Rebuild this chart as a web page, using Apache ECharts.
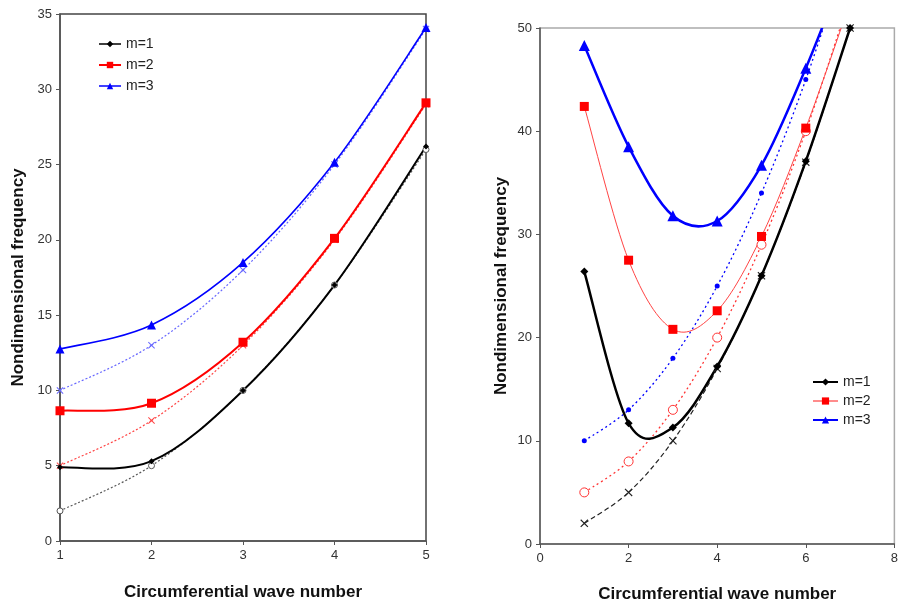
<!DOCTYPE html>
<html><head><meta charset="utf-8">
<script src="https://cdn.jsdelivr.net/npm/echarts@6/dist/echarts.min.js"></script>
<style>html,body{margin:0;padding:0;background:#fff}#c{width:901px;height:608px}</style>
</head><body><div id="c"></div>
<script>
// Left chart data
const leftX = [1, 2, 3, 4, 5];
const leftM1 = [4.9, 5.3, 10.0, 17.0, 26.2];
const leftM2 = [8.65, 9.15, 13.2, 20.1, 29.1];
const leftM3 = [12.75, 14.35, 18.5, 25.15, 34.1];
const leftM1d = [2, 5, 10, 17, 26];
const leftM2d = [5, 8, 13, 20, 29];
const leftM3d = [10, 13, 18, 25, 34];
// Right chart data
const rightX = [1, 2, 3, 4, 5, 6, 7];
const rightM1 = [26.4, 11.7, 11.3, 17.2, 26.0, 37.1, 50.0];
const rightM2 = [42.4, 27.5, 20.8, 22.6, 29.8, 40.3, 52.5];
const rightM3 = [48.3, 38.5, 31.8, 31.3, 36.7, 46.1, 57.0];
const rightM1d = [2, 5, 10, 17, 26, 37, 50];
const rightM2d = [5, 8, 13, 20, 29, 40, 53];
const rightM3d = [10, 13, 18, 25, 34, 45, 58];
const legendNames = ['m=1', 'm=2', 'm=3'];
const xTitle = 'Circumferential wave number';
const yTitle = 'Nondimensional frequency';

const XSYM = 'path://M0,1L1,0L5,4L9,0L10,1L6,5L10,9L9,10L5,6L1,10L0,9L4,5Z';
const pairs = (xs, ys) => xs.map((x, i) => [x, ys[i]]);
const FONT = '"Liberation Sans", Arial, sans-serif';

// Smooth curve (Catmull-Rom style Bezier) drawn through the data via the axes' scales
function curve(idx, xs, ys, color, width, dash, z) {
  return { type: 'custom', xAxisIndex: idx, yAxisIndex: idx, data: pairs(xs, ys), silent: true, clip: true, z: z,
    renderItem: function (params, api) {
      if (params.dataIndex !== 0) return null;
      const pts = xs.map((x, i) => api.coord([x, ys[i]]));
      const children = [];
      const n = pts.length;
      for (let i = 0; i < n - 1; i++) {
        const p0 = pts[Math.max(i - 1, 0)], p1 = pts[i], p2 = pts[i + 1], p3 = pts[Math.min(i + 2, n - 1)];
        children.push({ type: 'bezierCurve', silent: true,
          shape: { x1: p1[0], y1: p1[1], x2: p2[0], y2: p2[1],
            cpx1: p1[0] + (p2[0] - p0[0]) / 6, cpy1: p1[1] + (p2[1] - p0[1]) / 6,
            cpx2: p2[0] - (p3[0] - p1[0]) / 6, cpy2: p2[1] - (p3[1] - p1[1]) / 6 },
          style: { stroke: color, lineWidth: width, fill: 'none', lineDash: dash || null } });
      }
      const cs = params.coordSys;
      return { type: 'group', children: children,
        clipPath: { type: 'rect', shape: { x: cs.x, y: cs.y, width: cs.width, height: cs.height } } };
    }
  };
}
// Markers (line series with hidden line so the legend shows line + symbol)
function marks(name, idx, xs, ys, color, symbol, size, hollow) {
  const s = { type: 'line', xAxisIndex: idx, yAxisIndex: idx, data: pairs(xs, ys),
    symbol, symbolSize: size, showSymbol: true, clip: true, z: 4,
    lineStyle: { color, width: 1, opacity: 0 },
    itemStyle: hollow ? { color: '#fff', borderColor: color, borderWidth: 1 } : { color, borderWidth: 0 },
    emphasis: { disabled: true } };
  if (name) s.name = name;
  return s;
}
function axisCommon() {
  return {
    axisLine: { show: true, onZero: false, lineStyle: { color: '#555', width: 1.5 } },
    axisTick: { show: true, inside: false, length: 4, lineStyle: { color: '#555' } },
    splitLine: { show: false },
    axisLabel: { color: '#333', fontSize: 13, fontFamily: FONT }
  };
}
const nameStyle = { color: '#111', fontSize: 17, fontWeight: 'bold', fontFamily: FONT };
function legendItem(name, color, width) {
  return { name, lineStyle: { opacity: 1, color, width } };
}

const option = {
  animation: false,
  backgroundColor: '#fff',
  grid: [
    { left: 60, right: 475, top: 14, bottom: 67, show: true, borderColor: '#444', borderWidth: 1.5, backgroundColor: 'transparent' },
    { left: 540, right: 2, top: 28, bottom: 64, show: true, borderColor: '#aaa', borderWidth: 1.5, backgroundColor: 'transparent' }
  ],
  xAxis: [
    Object.assign(axisCommon(), { type: 'value', gridIndex: 0, min: 1, max: 5, interval: 1,
      name: xTitle, nameLocation: 'middle', nameGap: 43, nameTextStyle: nameStyle }),
    Object.assign(axisCommon(), { type: 'value', gridIndex: 1, min: 0, max: 8, interval: 2,
      name: xTitle, nameLocation: 'middle', nameGap: 42, nameTextStyle: nameStyle })
  ],
  yAxis: [
    Object.assign(axisCommon(), { type: 'value', gridIndex: 0, min: 0, max: 35, interval: 5,
      name: yTitle, nameLocation: 'middle', nameGap: 33, nameTextStyle: nameStyle }),
    Object.assign(axisCommon(), { type: 'value', gridIndex: 1, min: 0, max: 50, interval: 10,
      name: yTitle, nameLocation: 'middle', nameGap: 30, nameTextStyle: nameStyle })
  ],
  legend: [
    { data: [legendItem('m=1', '#000', 1.5), legendItem('m=2', '#ff0000', 2), legendItem('m=3', '#0000ff', 1.5)],
      orient: 'vertical', left: 93, top: 32, itemWidth: 22, itemHeight: 8, itemGap: 7,
      textStyle: { fontSize: 14, color: '#222', fontFamily: FONT }, selectedMode: false },
    { data: [legendItem('m=1 ', '#000', 2), legendItem('m=2 ', '#ff6666', 1.5), legendItem('m=3 ', '#0000ff', 2)],
      orient: 'vertical', left: 807, top: 370, itemWidth: 25, itemHeight: 9, itemGap: 5,
      textStyle: { fontSize: 14, color: '#222', fontFamily: FONT }, selectedMode: false }
  ],
  series: [
    curve(0, leftX, leftM1d, '#555', 1.2, [2, 2], 2),
    curve(0, leftX, leftM2d, '#ff4444', 1.2, [2, 2], 2),
    curve(0, leftX, leftM3d, '#6666ff', 1.2, [2, 2], 2),
    curve(0, leftX, leftM1, '#000', 2, null, 3),
    curve(0, leftX, leftM2, '#ff0000', 2, null, 3),
    curve(0, leftX, leftM3, '#0000ff', 1.6, null, 3),
    marks(null, 0, leftX, leftM1d, '#555', 'circle', 6, true),
    marks(null, 0, leftX, leftM2d, '#ff4444', XSYM, 7, false),
    marks(null, 0, leftX, leftM3d, '#6666ff', XSYM, 7, false),
    marks('m=1', 0, leftX, leftM1, '#000', 'diamond', 6, false),
    marks('m=2', 0, leftX, leftM2, '#ff0000', 'rect', 9, false),
    marks('m=3', 0, leftX, leftM3, '#0000ff', 'triangle', 9, false),

    curve(1, rightX, rightM1d, '#222', 1.2, [5, 3], 2),
    curve(1, rightX, rightM2d, '#ff3333', 1.3, [2, 3], 2),
    curve(1, rightX, rightM3d, '#0000ff', 1.3, [2, 3], 2),
    curve(1, rightX, rightM1, '#000', 2.5, null, 3),
    curve(1, rightX, rightM2, '#ff4444', 1, null, 3),
    curve(1, rightX, rightM3, '#0000ff', 2.5, null, 3),
    marks(null, 1, rightX, rightM1d, '#222', XSYM, 8, false),
    marks(null, 1, rightX, rightM2d, '#ff3333', 'circle', 9, true),
    marks(null, 1, rightX, rightM3d, '#0000ff', 'circle', 5, false),
    marks('m=1 ', 1, rightX, rightM1, '#000', 'diamond', 8, false),
    marks('m=2 ', 1, rightX, rightM2, '#ff0000', 'rect', 9, false),
    marks('m=3 ', 1, rightX, rightM3, '#0000ff', 'triangle', 11, false)
  ]
};
const chart = echarts.init(document.getElementById('c'), null, { renderer: 'canvas' });
chart.setOption(option);
</script></body></html>
